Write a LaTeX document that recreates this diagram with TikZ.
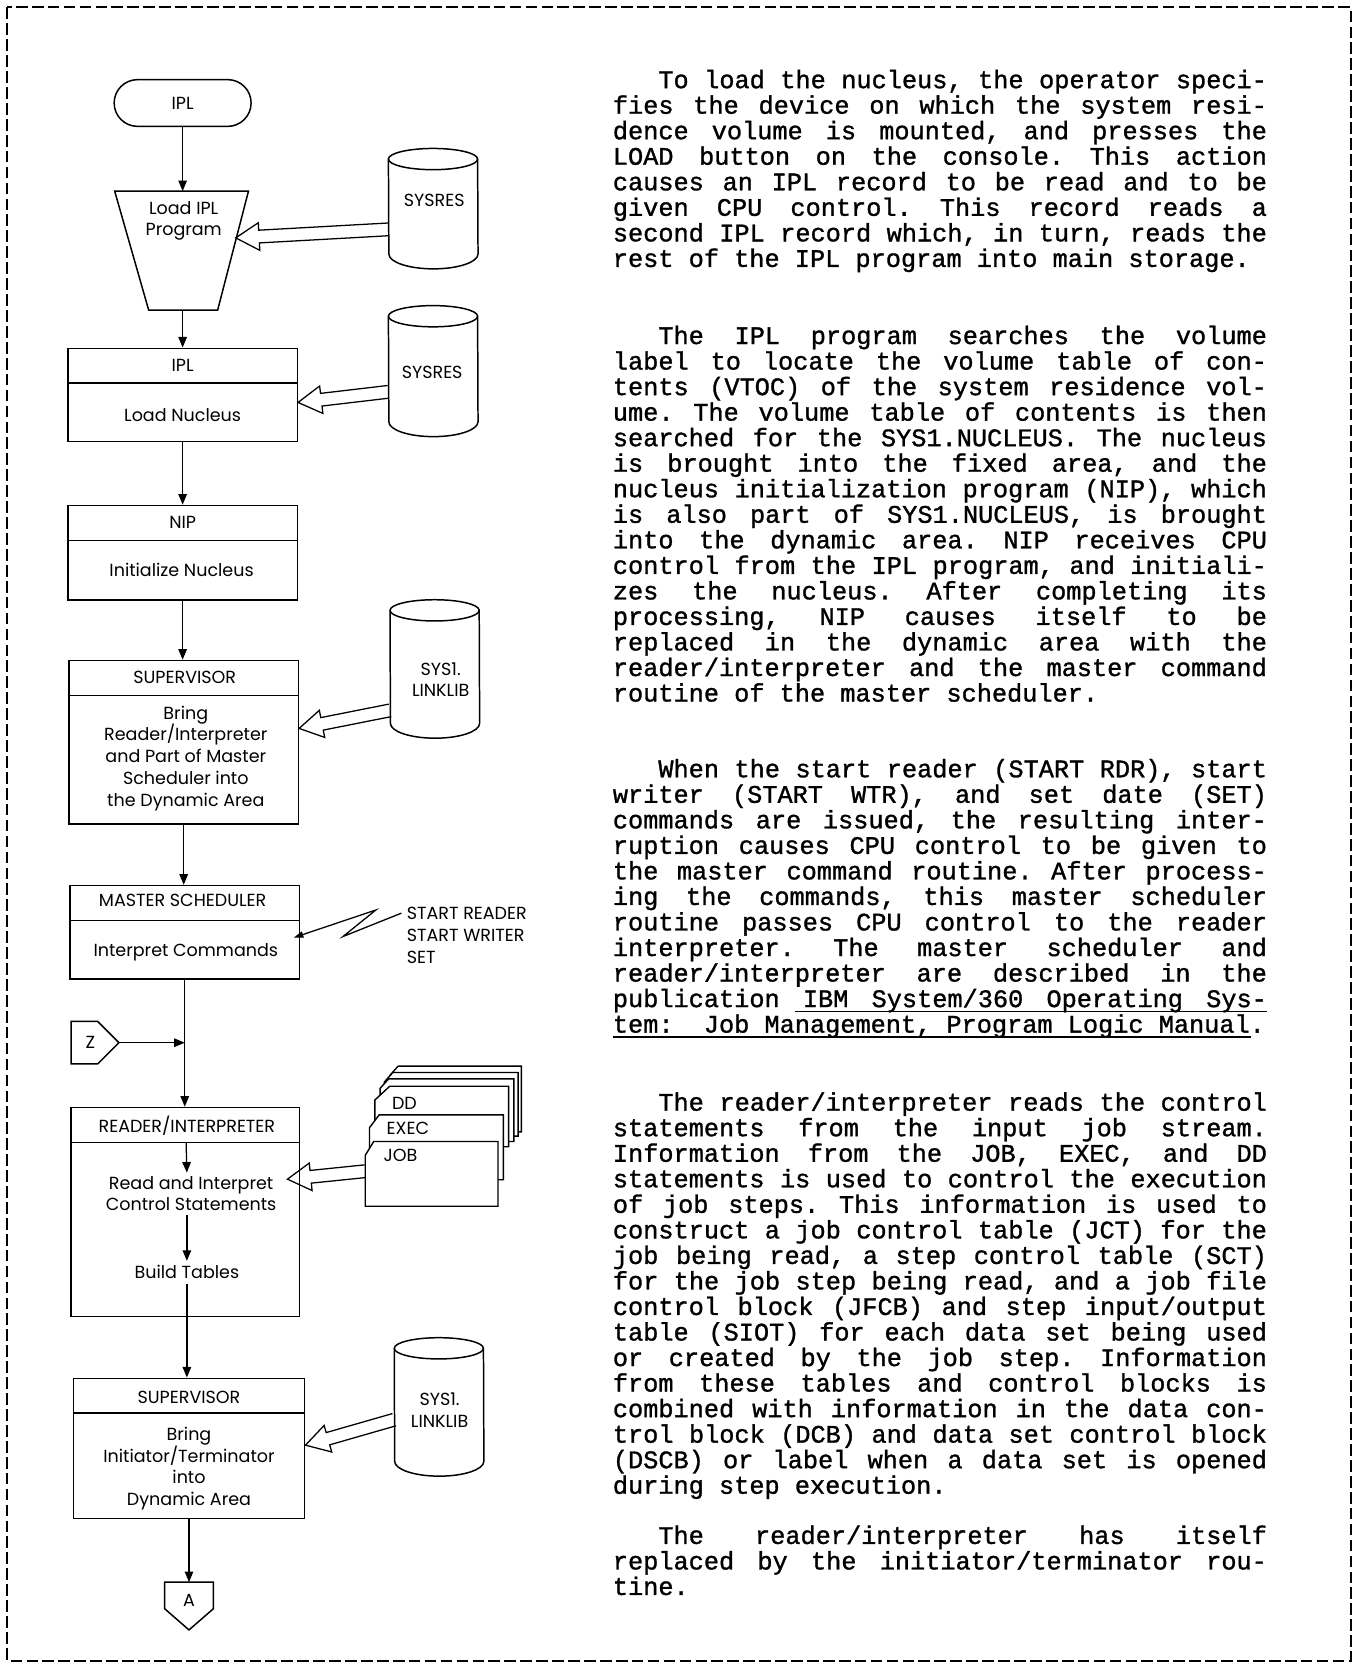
\documentclass[tikz,border=0pt]{standalone}
\usepackage{fontspec}
\setmainfont{Poppins}
\newfontfamily\typewr[FakeBold=1.2]{Liberation Mono}
\usetikzlibrary{calc}
\usetikzlibrary{arrows.meta}
\usetikzlibrary{positioning}

\tikzset{
  every node/.style={font=\fontsize{16.5}{20.5}\selectfont, inner sep=0pt, align=center},
  procbox/.style={rectangle, draw, line width=1.4pt, minimum width=216pt},
  flow/.style={line width=1.2pt, -{Triangle[length=10pt, width=8pt]}},
  hollow/.style={line width=1.2pt, line join=miter},
  drum/.style={rectangle, minimum width=84pt},
  card/.style={draw, line width=1.3pt, fill=white},
  para/.style={anchor=base west, text width=616pt, align=justify,
    font={\typewr\fontsize{23.8}{24.05}\selectfont\fontdimen3\font=14pt\fontdimen4\font=0pt\frenchspacing\tolerance=10000\hyphenpenalty=10000}},
}

\begin{document}
\begin{tikzpicture}[x=1pt, y=-1pt]
\useasboundingbox (0,0) rectangle (1277,1569);
\fill [white] (0,0) rectangle (1277,1569);
% page frame
\draw [line width=1.8pt, dash pattern=on 11pt off 4pt] (7,7) rectangle (1272,1564);

% main flow
\node [draw, line width=1.4pt, rounded corners=22pt, minimum width=129pt, minimum height=44pt] (start) at (172,97) {IPL};
\draw [line width=1.4pt] (108,180) -- (234,180) -- (205,292) -- (140,292) -- cycle;
\coordinate (trtop) at (172,180);
\coordinate (trbot) at (172,292);
\coordinate (trside) at (222,224);
\node (ldipl) at (173,208) {Load IPL\\Program};

\node [procbox, minimum height=88pt] (iplbox) at (172,372) {};
\node (ipltl) at (172,344) {IPL};
\node (iplld) at (172,391) {Load Nucleus};

\node [procbox, minimum height=89pt] (nipbox) at (172,520.5) {};
\node (niptl) at (172,492) {NIP};
\node (nipin) at (171,537) {Initialize Nucleus};

\node [procbox, minimum height=154pt] (supbox) at (173,699) {};
\node (suptl) at (174,638) {SUPERVISOR};
\node (supbr) at (175,714) {Bring\\Reader/Interpreter\\and Part of Master\\Scheduler into\\the Dynamic Area};

\node [procbox, minimum height=88pt] (msbox) at (174,878) {};
\node (mstl) at (172,848) {MASTER SCHEDULER};
\node (msic) at (175,897) {Interpret Commands};

\node [procbox, minimum width=215pt, minimum height=197pt] (ribox) at (174.5,1141.5) {};
\node (ritl) at (176,1060) {READER/INTERPRETER};
\node (rdtxt) at (180,1124) {Read and Interpret\\Control Statements};
\node (build) at (176,1198) {Build Tables};

\node [procbox, minimum width=218pt, minimum height=132pt] (sup2box) at (178,1364) {};
\node (sup2tl) at (178,1316) {SUPERVISOR};
\node (sup2br) at (178,1383) {Bring\\Initiator/Terminator\\into\\Dynamic Area};

\foreach \b in {iplbox,nipbox,supbox,msbox,ribox,sup2box}
  \draw [line width=1.4pt] ($(\b.north west)+(0,33.5)$) -- ($(\b.north east)+(0,33.5)$);

% connectors
\draw [line width=1.4pt] (67,962) -- (92,962) -- (112,982) -- (92,1002) -- (67,1002) -- cycle;
\coordinate (ztip) at (112,982);
\node (zcon) at (85,982) {Z};
\draw [line width=1.4pt] (155,1490) -- (201,1490) -- (201,1515) -- (178,1535) -- (155,1515) -- cycle;
\coordinate (atop) at (178,1490);
\node (acon) at (178,1507) {A};

\draw [flow] (start) -- (trtop);
\draw [flow] (trbot) -- (iplbox);
\draw [flow] (iplbox) -- (nipbox);
\draw [flow] (nipbox.south) -- (nipbox.south |- supbox.north);
\draw [flow] (supbox.south) -- (supbox.south |- msbox.north);
\draw [flow] (msbox.south) -- (msbox.south |- ribox.north);
\draw [flow] (ztip) -- (ztip -| msbox.south);
\draw [flow] ($(ribox.north west)+(109,34)$) -- ($(rdtxt.north -| build.north)+(0,-3)$);
\draw [flow] ($(rdtxt.south -| build.north)+(0,4)$) -- ($(build.north)+(0,-4)$);
\draw [flow] ($(build.south)+(0,5)$) -- (build.south |- sup2box.north);
\draw [flow] (sup2box.south) -- (sup2box.south |- atop);

% data sets
\node [drum, minimum height=113pt] (sysresA) at (408,196.5) {};
\node [drum, minimum height=123pt] (sysresB) at (408,349.5) {};
\node [drum, minimum height=130pt] (linkA) at (409.5,630) {};
\node [drum, minimum height=130pt] (linkB) at (413.5,1325) {};
\foreach \c in {sysresA,sysresB,linkA,linkB} {
  \draw [line width=1.4pt] ($(\c.north west)+(0,10)$) arc [start angle=180, end angle=0, x radius=42pt, y radius=10pt]
    -- ($(\c.south east)+(0,-14)$) arc [start angle=0, end angle=-180, x radius=42pt, y radius=14pt] -- cycle;
  \draw [line width=1.4pt] ($(\c.north west)+(0,10)$) arc [start angle=180, end angle=360, x radius=42pt, y radius=10pt];
}
\node (sysresAt) at (409,189) {SYSRES};
\node (sysresBt) at (407,351) {SYSRES};
\node (linkAt) at (415,640) {SYS1.\\LINKLIB};
\node (linkBt) at (414,1328) {SYS1.\\LINKLIB};

% card deck
\foreach \l/\t/\r/\b/\cx/\cy in {367/1004/491/1066/8/9, 362/1010/488/1070/8/9, 358/1016/484/1075/8/9,
    353/1023/479/1080/14/13, 348/1050/474/1111/9/12, 344/1075/469/1136/8/13}
  \draw [card] (\l,\t+\cy) -- (\l+\cx,\t) -- (\r,\t) -- (\r,\b) -- (\l,\b) -- cycle;
\node [anchor=west] (ddlbl) at (369,1039) {DD};
\node [anchor=west] (execlbl) at (364,1063) {EXEC};
\node [anchor=west] (joblbl) at (361,1088) {JOB};
\coordinate (jobsrc) at (344,1103);

% wide arrows into the boxes
\coordinate (srcA) at ($(sysresA.west)+(0,19.5)$);
\coordinate (srcB) at ($(sysresB.west)+(0,19.5)$);
\coordinate (srcC) at ($(linkA.west)+(0,39)$);
\coordinate (srcE) at ($(linkB.west)+(0,12)$);
\coordinate (tipB) at ($(iplbox.east)+(0,7)$);
\coordinate (tipC) at ($(supbox.east)+(0,-13)$);
\coordinate (tipD) at ($(ribox.east)+(-12,-31)$);
\coordinate (tipE) at ($(sup2box.east)+(0,-3)$);
\foreach \s/\t in {srcA/trside, srcB/tipB, srcC/tipC, jobsrc/tipD, srcE/tipE} {
  \coordinate (hd) at ($(\t)!22pt!(\s)$);
  \draw [hollow] ($(\s)!6pt!90:(\t)$) -- ($(hd)!6pt!90:(\t)$) -- ($(hd)!13pt!90:(\t)$) -- (\t)
    -- ($(hd)!13pt!-90:(\t)$) -- ($(hd)!6pt!-90:(\t)$) -- ($(\s)!6pt!-90:(\t)$);
}

% operator commands
\node [anchor=west, align=left] (cmds) at (383,881) {START READER\\START WRITER\\SET};
\coordinate (mstip) at ($(msbox.east)+(-6,5)$);
\draw [line width=1.2pt, -{Triangle[length=9pt, width=6pt]}] ($(cmds.west)+(-5,-21)$) -- ++(-55,22) -- ++(31,-25) -- (mstip);

% page text
\node [para] (txtA) at (577,83) {\hspace*{1.8em}To load the nucleus, the operator speci-\linebreak
fies the device on which the system resi-\linebreak
dence volume is mounted, and presses the\linebreak
LOAD button on the console. This action\linebreak
causes an IPL record to be read and to be\linebreak
given CPU control. This record reads a\linebreak
second IPL record which, in turn, reads the\linebreak
rest of the IPL program into main storage.};

\node [para] (txtB) at (577,324) {\hspace*{1.8em}The IPL program searches the volume\linebreak
label to locate the volume table of con-\linebreak
tents (VTOC) of the system residence vol-\linebreak
ume. The volume table of contents is then\linebreak
searched for the SYS1.NUCLEUS. The nucleus\linebreak
is brought into the fixed area, and the\linebreak
nucleus initialization program (NIP), which\linebreak
is also part of SYS1.NUCLEUS, is brought\linebreak
into the dynamic area. NIP receives CPU\linebreak
control from the IPL program, and initiali-\linebreak
zes the nucleus. After completing its\linebreak
processing, NIP causes itself to be\linebreak
replaced in the dynamic area with the\linebreak
reader/interpreter and the master command\linebreak
routine of the master scheduler.};

\node [para] (txtC) at (577,732) {\hspace*{1.8em}When the start reader (START RDR), start\linebreak
writer (START WTR), and set date (SET)\linebreak
commands are issued, the resulting inter-\linebreak
ruption causes CPU control to be given to\linebreak
the master command routine. After process-\linebreak
ing the commands, this master scheduler\linebreak
routine passes CPU control to the reader\linebreak
interpreter. The master scheduler and\linebreak
reader/interpreter are described in the\linebreak
publication IBM System/360 Operating Sys-\linebreak
tem:\ \ Job Management, Program Logic Manual.};
\draw [line width=1.2pt] ($(txtC.base west)+(172,220.5)$) -- ($(txtC.base west)+(616,220.5)$);
\draw [line width=1.2pt] ($(txtC.base west)+(0,244.5)$) -- ($(txtC.base west)+(601,244.5)$);

\node [para] (txtD) at (577,1046) {\hspace*{1.8em}The reader/interpreter reads the control\linebreak
statements from the input job stream.\linebreak
Information from the JOB, EXEC, and DD\linebreak
statements is used to control the execution\linebreak
of job steps. This information is used to\linebreak
construct a job control table (JCT) for the\linebreak
job being read, a step control table (SCT)\linebreak
for the job step being read, and a job file\linebreak
control block (JFCB) and step input/output\linebreak
table (SIOT) for each data set being used\linebreak
or created by the job step. Information\linebreak
from these tables and control blocks is\linebreak
combined with information in the data con-\linebreak
trol block (DCB) and data set control block\linebreak
(DSCB) or label when a data set is opened\linebreak
during step execution.};

\node [para] (txtE) at (577,1454) {\hspace*{1.8em}The reader/interpreter has itself\linebreak
replaced by the initiator/terminator rou-\linebreak
tine.};
\end{tikzpicture}
\end{document}
